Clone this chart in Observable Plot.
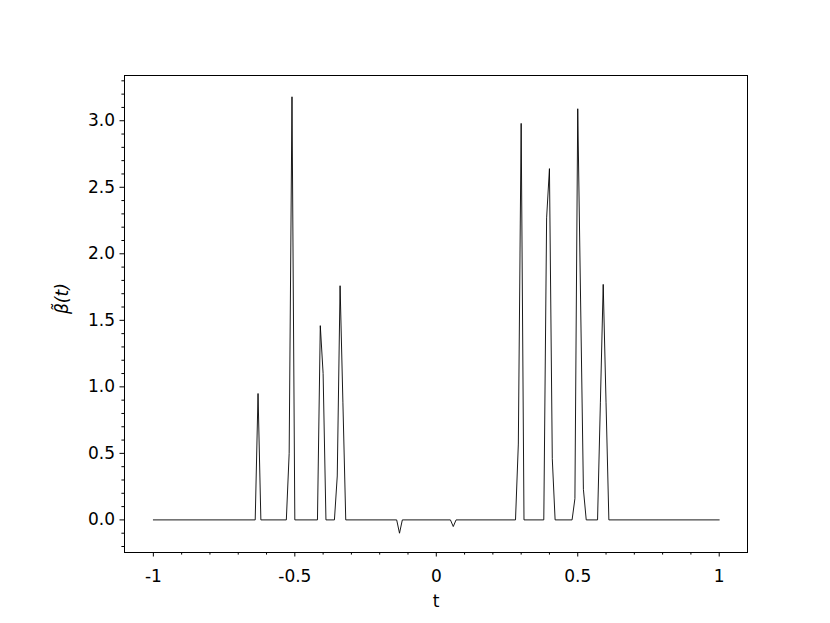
<!DOCTYPE html>
<html><head><meta charset="utf-8">
<script src="https://cdn.jsdelivr.net/npm/d3@7"></script>
<script src="https://cdn.jsdelivr.net/npm/@observablehq/plot@0.6"></script>
<style>body{margin:0;background:#fff;}</style>
</head><body><div id="chart"></div>
<script>
const tValues = [-1, -0.64, -0.63, -0.62, -0.53, -0.52, -0.51, -0.50, -0.42, -0.41, -0.40, -0.39,
  -0.36, -0.35, -0.34, -0.33, -0.32, -0.14, -0.13, -0.12, 0.05, 0.06, 0.07,
  0.28, 0.29, 0.30, 0.31, 0.38, 0.39, 0.40, 0.41, 0.42, 0.48, 0.49, 0.50, 0.51, 0.52, 0.53,
  0.57, 0.58, 0.59, 0.60, 0.61, 1];
const betaValues = [0, 0, 0.95, 0, 0, 0.5, 3.18, 0, 0, 1.46, 1.1, 0,
  0, 0.33, 1.76, 0.88, 0, 0, -0.10, 0, 0, -0.05, 0,
  0, 0.57, 2.98, 0, 0, 2.27, 2.64, 0.46, 0, 0, 0.16, 3.09, 1.66, 0.23, 0,
  0, 0.88, 1.77, 0.88, 0, 0];
const xTicks = [-1, -0.5, 0, 0.5, 1];
const xTickLabels = ["-1", "-0.5", "0", "0.5", "1"];
const yTicks = [0, 0.5, 1, 1.5, 2, 2.5, 3];
const yTickLabels = ["0.0", "0.5", "1.0", "1.5", "2.0", "2.5", "3.0"];
const xLabel = "t";
const yLabel = "β̃(t)";

const xMinor = d3.range(-10, 11).map(i => i / 10).filter(v => !xTicks.some(m => Math.abs(m - v) < 1e-9));
const yMinor = d3.range(-2, 34).map(i => i / 10).filter(v => !yTicks.some(m => Math.abs(m - v) < 1e-9));
const points = tValues.map((t, i) => ({t, beta: betaValues[i]}));

const plot = Plot.plot({
  width: 830, height: 623,
  marginLeft: 124, marginRight: 83, marginTop: 75, marginBottom: 71,
  x: {domain: [-1.102, 1.1], label: null},
  y: {domain: [-0.245, 3.34], label: null},
  style: {fontFamily: "DejaVu Sans", fontSize: "17px", color: "black", background: "white", overflow: "visible"},
  marks: [
    Plot.axisX(xMinor, {tickSize: 2.6, tickFormat: () => "", label: null, strokeWidth: 1}),
    Plot.axisX(xTicks, {tickSize: 4.5, tickPadding: 13, tickFormat: d => xTickLabels[xTicks.indexOf(d)], label: null, fontSize: 17, strokeWidth: 1}),
    Plot.axisY(yMinor, {tickSize: 2.6, tickFormat: () => "", label: null, strokeWidth: 1}),
    Plot.axisY(yTicks, {tickSize: 4.5, tickPadding: 5, tickFormat: d => yTickLabels[yTicks.indexOf(d)], label: null, fontSize: 17, strokeWidth: 1}),
    Plot.frame({stroke: "black", strokeWidth: 1}),
    Plot.line(points, {x: "t", y: "beta", stroke: "black", strokeWidth: 0.9}),
    Plot.text([xLabel], {frameAnchor: "bottom", dy: 54, fontSize: 17}),
    Plot.text([yLabel], {frameAnchor: "left", dx: -62, rotate: -90, fontSize: 17, fontStyle: "italic"})
  ]
});
document.getElementById("chart").appendChild(plot);
</script>
</body></html>
